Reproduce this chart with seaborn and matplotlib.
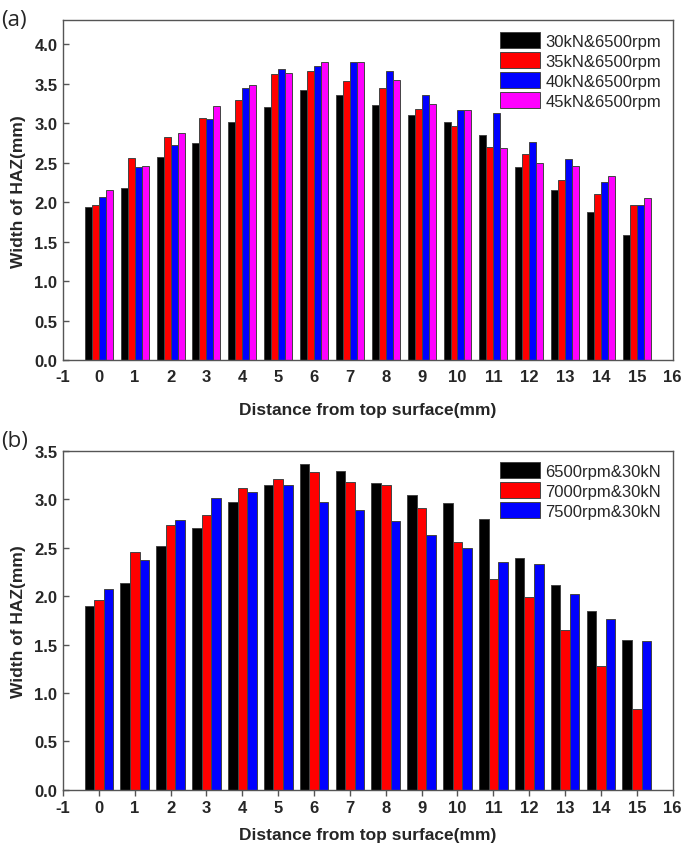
import numpy as np
import pandas as pd
import seaborn as sns
import matplotlib
matplotlib.use("Agg")
import matplotlib.pyplot as plt

sns.set_style("white")
plt.rcParams['font.family'] = ['Liberation Sans', 'DejaVu Sans']

# distance from top surface (mm)
dist = list(range(16))

# panel (a): load varied at 6500 rpm
labels_a = ["30kN&6500rpm", "35kN&6500rpm", "40kN&6500rpm", "45kN&6500rpm"]
haz_30kN = [1.94, 2.18, 2.57, 2.75, 3.02, 3.21, 3.42, 3.35, 3.23, 3.10, 3.02, 2.85, 2.44, 2.15, 1.88, 1.58]
haz_35kN = [1.96, 2.56, 2.83, 3.06, 3.29, 3.62, 3.66, 3.53, 3.44, 3.18, 2.96, 2.70, 2.61, 2.28, 2.10, 1.96]
haz_40kN = [2.07, 2.44, 2.72, 3.05, 3.44, 3.68, 3.72, 3.77, 3.66, 3.35, 3.17, 3.13, 2.76, 2.55, 2.26, 1.97]
haz_45kN = [2.15, 2.46, 2.87, 3.22, 3.48, 3.64, 3.77, 3.77, 3.54, 3.24, 3.16, 2.68, 2.50, 2.46, 2.33, 2.05]

# panel (b): speed varied at 30 kN
labels_b = ["6500rpm&30kN", "7000rpm&30kN", "7500rpm&30kN"]
haz_6500 = [1.90, 2.14, 2.52, 2.70, 2.97, 3.15, 3.36, 3.29, 3.17, 3.04, 2.96, 2.80, 2.39, 2.11, 1.85, 1.55]
haz_7000 = [1.96, 2.46, 2.73, 2.84, 3.12, 3.21, 3.28, 3.18, 3.15, 2.91, 2.56, 2.18, 1.99, 1.65, 1.28, 0.83]
haz_7500 = [2.07, 2.37, 2.79, 3.01, 3.07, 3.15, 2.97, 2.89, 2.77, 2.63, 2.50, 2.35, 2.33, 2.02, 1.76, 1.54]


def long_df(labels, series):
    rows = []
    for lab, vals in zip(labels, series):
        for d, v in zip(dist, vals):
            rows.append({"dist": d, "haz": v, "cond": lab})
    return pd.DataFrame(rows)


df_a = long_df(labels_a, [haz_30kN, haz_35kN, haz_40kN, haz_45kN])
df_b = long_df(labels_b, [haz_6500, haz_7000, haz_7500])

fig = plt.figure(figsize=(6.85, 8.54), dpi=100)
ax_a = fig.add_axes([0.092, 0.577, 0.890, 0.398])
ax_b = fig.add_axes([0.092, 0.074, 0.890, 0.397])

pal_a = ["#000000", "#FF0000", "#0000FF", "#FF00FF"]
pal_b = ["#000000", "#FF0000", "#0000FF"]

FS = 12


def draw(ax, df, pal, width, ymax, yticks, xpad):
    sns.barplot(data=df, x="dist", y="haz", hue="cond", palette=pal, ax=ax,
                native_scale=True, width=width, gap=0, saturation=1,
                edgecolor="#444444", linewidth=0.7, errorbar=None)
    ax.set_xlim(-1, 16)
    ax.set_ylim(0, ymax)
    ax.set_xticks(range(-1, 17))
    ax.set_xticklabels([str(i) for i in range(-1, 17)], fontweight="bold", fontsize=FS)
    ax.set_yticks(yticks)
    ax.set_yticklabels(["%.1f" % t for t in yticks], fontweight="bold", fontsize=FS)
    ax.set_xlabel("Distance from top surface(mm)", fontweight="bold", fontsize=12.5, labelpad=xpad)
    ax.set_ylabel("Width of HAZ(mm)", fontweight="bold", fontsize=12.5, labelpad=6)
    for s in ax.spines.values():
        s.set_color("#555555")
        s.set_linewidth(1.0)
    leg = ax.legend(loc="upper right", frameon=False, fontsize=12,
                    handlelength=2.4, handleheight=1.1, handletextpad=0.3,
                    labelspacing=0.2, borderaxespad=0.5, borderpad=0.2, title=None)
    for h in leg.legend_handles:
        h.set_edgecolor("#444444")


draw(ax_a, df_a, pal_a, 0.78, 4.30, np.arange(0, 4.01, 0.5), 13)
ax_a.tick_params(axis="x", length=0, pad=6)
ax_a.tick_params(axis="y", direction="in", length=4, width=1, color="#555555", left=True, pad=4)

draw(ax_b, df_b, pal_b, 0.80, 3.5, np.arange(0, 3.51, 0.5), 9)
ax_b.tick_params(axis="x", direction="out", length=4, width=1, color="#555555", bottom=True, pad=3)
ax_b.tick_params(axis="y", direction="in", length=4, width=1, color="#555555", left=True, pad=4)

fig.text(0.002, 0.970, "(a)", fontsize=16, family=["Open Sans", "DejaVu Sans"])
fig.text(0.002, 0.476, "(b)", fontsize=16, family=["Open Sans", "DejaVu Sans"])

fig.savefig("out.png", dpi=100)
